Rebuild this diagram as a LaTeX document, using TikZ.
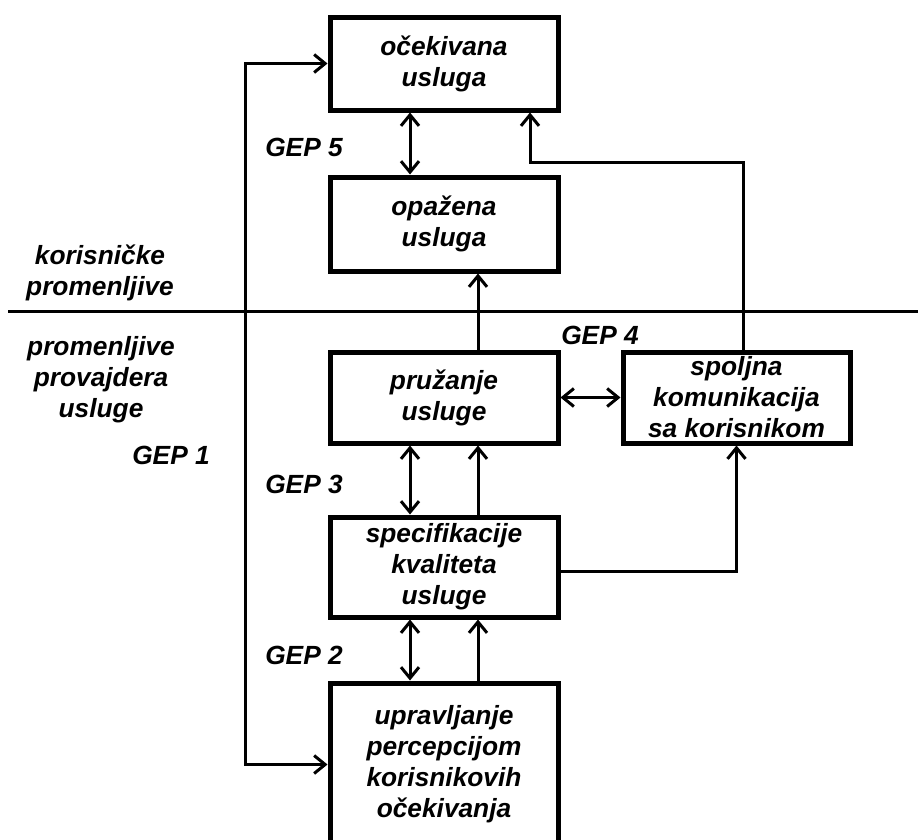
\documentclass[tikz,border=0pt]{standalone}
\usepackage{fontspec}
\setmainfont{Liberation Sans}
\usetikzlibrary{arrows.meta}

\begin{document}
\begin{tikzpicture}[x=1pt,y=-1pt,
  txt/.style={font=\fontsize{26.3}{31}\selectfont\bfseries\itshape, align=center, inner sep=0pt},
  box/.style={txt, draw, line width=5pt, minimum width=228pt},
  barb/.tip={Straight Barb[length=11pt,width=18pt,line width=3pt]},
  arr/.style={line width=3pt, -{barb}},
  dbl/.style={line width=3pt, {barb}-{barb}},
  divider/.style={line width=3pt}
]
\useasboundingbox (0,0) rectangle (918,839);

% boxes
\node[box, minimum height=93pt]  (ocek) at (444,63.5)  {očekivana\\usluga};
\node[box, minimum height=94pt]  (opaz) at (444,224)   {opažena\\usluga};
\node[box, minimum height=91pt]  (pruz) at (444,397.5) {pružanje\\usluge};
\node[box, minimum width=227pt, minimum height=91pt] (spol) at (736.5,397.5) {spoljna\\komunikacija\\sa korisnikom};
\node[box, minimum height=100pt] (spec) at (444,567)   {specifikacije\\kvaliteta\\usluge};
\node[box, minimum height=163pt] (upr)  at (444,764.5) {upravljanje\\percepcijom\\korisnikovih\\očekivanja};

% side labels
\node[txt] (ku)  at (100,273) {korisničke\\promenljive};
\node[txt] (pp)  at (101,380) {promenljive\\provajdera\\usluge};
\node[txt] (g1)  at (171,455) {GEP 1};
\node[txt] (g2)  at (304,655) {GEP 2};
\node[txt] (g3)  at (304,484) {GEP 3};
\node[txt] (g4)  at (600,335) {GEP 4};
\node[txt] (g5)  at (304,147) {GEP 5};

% divider between user and provider variables
\coordinate (divL) at (8,311);
\coordinate (divR) at (918,311);
\draw[divider] (divL) -- (divR);

% helper columns and rows for the connectors
\coordinate (colL) at (245,0);
\coordinate (colA) at (410,0);
\coordinate (colB) at (478,0);
\coordinate (colC) at (530,0);
\coordinate (colD) at (743,0);
\coordinate (rowT) at (0,162);
\coordinate (rowS) at (0,571);

% connectors
\draw[dbl] (ocek.south -| colA) -- (opaz.north -| colA);
\draw[arr] (pruz.north -| colB) -- (opaz.south -| colB);
\draw[arr] (spol.north -| colD) -- (rowT -| colD) -- (rowT -| colC) -- (ocek.south -| colC);
\draw[dbl] (pruz.east) -- (spol.west);
\draw[dbl] (pruz.south -| colA) -- (spec.north -| colA);
\draw[arr] (spec.north -| colB) -- (pruz.south -| colB);
\draw[arr] (spec.east |- rowS) -- (rowS -| spol.south) -- (spol.south);
\draw[dbl] (spec.south -| colA) -- (upr.north -| colA);
\draw[arr] (upr.north -| colB) -- (spec.south -| colB);
\draw[dbl] (ocek.west) -- (ocek.west -| colL) -- (upr.west -| colL) -- (upr.west);
\end{tikzpicture}
\end{document}
